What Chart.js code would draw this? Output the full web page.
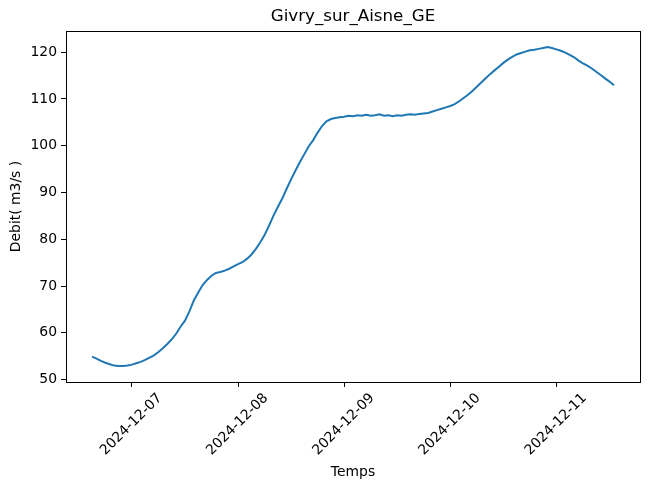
<!DOCTYPE html>
<html>
<head>
<meta charset="utf-8">
<title>Givry_sur_Aisne_GE</title>
<script src="https://cdn.jsdelivr.net/npm/chart.js@4"></script>
<style>
  html, body { margin: 0; padding: 0; background: #fff; }
  canvas { display: block; }
</style>
</head>
<body>
<canvas id="graphDebit" width="649" height="489"></canvas>
<script>
// releve horaire, debut le 2024-12-06 a 15:00
const heureDebut = -9; // heures par rapport au 2024-12-07 00:00
const debit = [
  54.9, 54.5, 54.0, 53.6, 53.3, 53.0, 52.9, 52.9, 53.0,
  53.2, 53.5, 53.8, 54.2, 54.7, 55.2, 55.9, 56.7, 57.6, 58.6, 59.8, 61.3,
  62.6, 64.6, 66.9, 68.6, 70.2, 71.3, 72.2, 72.8, 73.0, 73.3, 73.7, 74.2,
  74.7, 75.1, 75.8, 76.7, 77.9, 79.3, 80.9, 82.9, 85.0, 86.9, 88.7, 90.8,
  92.8, 94.7, 96.5, 98.2, 99.9, 101.2, 102.8, 104.2, 105.2, 105.7, 105.9, 106.1,
  106.2, 106.4, 106.3, 106.5, 106.4, 106.6, 106.4, 106.5, 106.7, 106.4, 106.5, 106.3,
  106.5, 106.4, 106.6, 106.7, 106.6, 106.8, 106.9, 107.0, 107.3, 107.6, 107.9, 108.2,
  108.5, 108.9, 109.5, 110.2, 110.9, 111.7, 112.6, 113.5, 114.4, 115.3, 116.1, 116.9,
  117.7, 118.4, 119.0, 119.5, 119.8, 120.1, 120.4, 120.5, 120.7, 120.9, 121.1, 120.9,
  120.6, 120.3, 119.9, 119.4, 118.9, 118.2, 117.6, 117.1, 116.5, 115.8, 115.1, 114.4,
  113.7, 112.9
];
const joursTicks = [0, 24, 48, 72, 96];
const joursLabels = ["2024-12-07", "2024-12-08", "2024-12-09", "2024-12-10", "2024-12-11"];
const debitTicks = [50, 60, 70, 80, 90, 100, 110, 120];

const points = debit.map((v, i) => ({ x: heureDebut + i, y: v }));

// marges a la matplotlib (5%)
const xMin0 = heureDebut, xMax0 = heureDebut + debit.length - 1;
const yMin0 = Math.min(...debit), yMax0 = Math.max(...debit);
const mx = (xMax0 - xMin0) * 0.05, my = (yMax0 - yMin0) * 0.05;

const police = "'DejaVu Sans', sans-serif";

// cadre complet autour de la zone du graphe
const cadre = {
  id: "cadre",
  afterDraw(chart) {
    const { ctx, chartArea: a } = chart;
    ctx.save();
    ctx.strokeStyle = "#000";
    ctx.lineWidth = 1;
    ctx.strokeRect(Math.round(a.left) + 0.5, Math.round(a.top) + 0.5,
      Math.round(a.right - a.left), Math.round(a.bottom - a.top));
    ctx.restore();
  }
};

new Chart(document.getElementById("graphDebit"), {
  type: "line",
  data: {
    datasets: [{
      data: points,
      borderColor: "#1f77b4",
      borderWidth: 2,
      pointRadius: 0,
      tension: 0,
      fill: false
    }]
  },
  options: {
    responsive: false,
    animation: false,
    layout: { padding: { left: 0, right: 9, top: 0, bottom: 0 } },
    plugins: {
      legend: { display: false },
      tooltip: { enabled: false },
      title: {
        display: true,
        text: "Givry_sur_Aisne_GE",
        color: "#000",
        fullSize: false,
        font: { family: police, size: 16.7, weight: "normal" },
        padding: { top: 7, bottom: 4 }
      }
    },
    scales: {
      x: {
        type: "linear",
        min: xMin0 - mx,
        max: xMax0 + mx,
        afterBuildTicks: s => { s.ticks = joursTicks.map(v => ({ value: v })); },
        afterFit: s => { s.height = 107; },
        ticks: {
          color: "#000",
          font: { family: police, size: 13.9 },
          minRotation: 45,
          maxRotation: 45,
          padding: 3,
          labelOffset: 28,
          callback: v => joursLabels[joursTicks.indexOf(v)]
        },
        grid: { drawOnChartArea: false, drawTicks: true, tickLength: 5, color: "#000" },
        border: { display: true, color: "#000", width: 1 },
        title: {
          display: true,
          text: "Temps",
          color: "#000",
          font: { family: police, size: 13.9 },
          padding: { top: 4, bottom: 8 }
        }
      },
      y: {
        min: yMin0 - my,
        max: yMax0 + my,
        afterBuildTicks: s => { s.ticks = debitTicks.map(v => ({ value: v })); },
        afterFit: s => { s.width = 66; },
        ticks: {
          color: "#000",
          font: { family: police, size: 13.9 },
          padding: 4
        },
        grid: { drawOnChartArea: false, drawTicks: true, tickLength: 5, color: "#000" },
        border: { display: true, color: "#000", width: 1 },
        title: {
          display: true,
          text: "Debit( m3/s )",
          color: "#000",
          font: { family: police, size: 13.9 },
          padding: { top: 8, bottom: 4 }
        }
      }
    }
  },
  plugins: [cadre]
});
</script>
</body>
</html>
